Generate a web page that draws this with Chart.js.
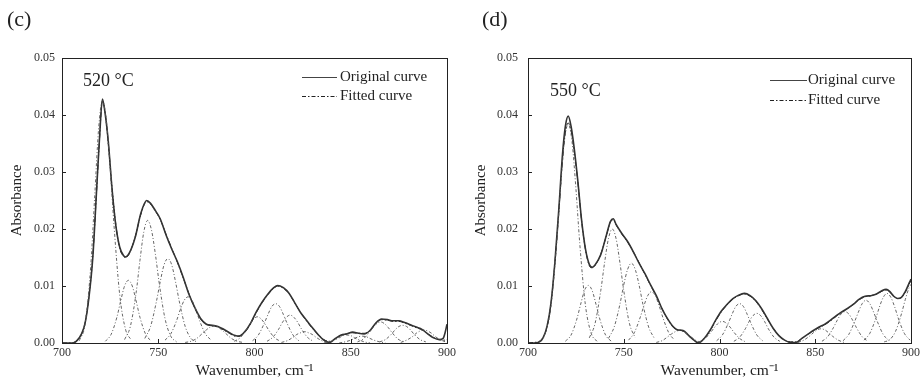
<!DOCTYPE html>
<html>
<head>
<meta charset="utf-8">
<script src="https://cdn.jsdelivr.net/npm/chart.js@4"></script>
<style>
  html, body { margin:0; padding:0; background:#fff; }
  #wrap { position:relative; width:923px; height:382px; overflow:hidden; font-family:"Liberation Serif","Times New Roman",serif; color:#222; }
  canvas { position:absolute; top:0; }
  .lbl { position:absolute; white-space:nowrap; }
  .panel { font-size:22px; line-height:22px; }
  .temp { font-size:18px; line-height:18px; }
  .leg { font-size:15px; line-height:15px; }
  svg { position:absolute; left:0; top:0; }
</style>
</head>
<body>
<div id="wrap">
  <canvas id="chartC" width="461" height="382" style="left:0px"></canvas>
  <canvas id="chartD" width="462" height="382" style="left:461px"></canvas>
  <svg width="923" height="382">
    <line x1="302" y1="77.5" x2="337" y2="77.5" stroke="#444" stroke-width="1.2"/>
    <line x1="302" y1="96.5" x2="337" y2="96.5" stroke="#222" stroke-width="1" stroke-dasharray="4,2,1.5,2"/>
    <line x1="770" y1="80.5" x2="807" y2="80.5" stroke="#444" stroke-width="1.2"/>
    <line x1="770" y1="100.5" x2="807" y2="100.5" stroke="#222" stroke-width="1" stroke-dasharray="4,2,1.5,2"/>
  </svg>
  <div class="lbl panel" style="left:7px;top:8px">(c)</div>
  <div class="lbl panel" style="left:482px;top:8px">(d)</div>
  <div class="lbl temp" style="left:83px;top:71px">520 °C</div>
  <div class="lbl temp" style="left:550px;top:81px">550 °C</div>
  <div class="lbl leg" style="left:340px;top:69px">Original curve</div>
  <div class="lbl leg" style="left:340px;top:88px">Fitted curve</div>
  <div class="lbl leg" style="left:808px;top:72px">Original curve</div>
  <div class="lbl leg" style="left:808px;top:92px">Fitted curve</div>
</div>
<script>
// ---------- axis ticks ----------
const xTicks = [700, 750, 800, 850, 900];
const yTicks = [0.00, 0.01, 0.02, 0.03, 0.04, 0.05];

// ---------- panel (c) 520 °C ----------
const c_wn = [700,703,706,708,710,712,714,716,718,719.5,
  721,722.5,724,726,728,730,732,733,735,738,
  741,744,746,748,751,754,757,760,763,766,
  769,772,775,778,781,784,787,790,792,795,
  798,801,804,807,810,812,815,818,821,824,
  827,830,833,836,839,842,845,848,851,854,
  857,860,863,866,869,872,875,878,881,884,
  887,890,893,896,898,899,900];
const c_orig = [0,0,0,0.0005,0.0015,0.0035,0.0080,0.0150,0.0270,0.0360,
  0.0428,0.0400,0.0355,0.0270,0.0205,0.0168,0.0153,0.0151,0.0158,0.0185,
  0.0228,0.0250,0.0245,0.0235,0.0218,0.0190,0.0165,0.0142,0.0115,0.0085,
  0.0062,0.0043,0.0033,0.0031,0.0029,0.0024,0.0018,0.0013,0.0012,0.0020,
  0.0035,0.0055,0.0072,0.0086,0.0097,0.0101,0.0097,0.0087,0.0070,0.0053,
  0.0040,0.0027,0.0015,0.0005,0.0001,0.0008,0.0014,0.0016,0.0019,0.0017,
  0.0016,0.0022,0.0035,0.0042,0.0041,0.0039,0.0039,0.0036,0.0032,0.0028,
  0.0024,0.0016,0.0009,0.0006,0.0008,0.0018,0.0033];
const c_fit = [0,0,0.0001,0.0005,0.0014,0.0036,0.0082,0.0152,0.0268,0.0358,
  0.0425,0.0402,0.0352,0.0272,0.0207,0.0166,0.0152,0.0150,0.0157,0.0186,
  0.0226,0.0248,0.0244,0.0234,0.0217,0.0191,0.0166,0.0141,0.0114,0.0086,
  0.0061,0.0042,0.0033,0.0030,0.0028,0.0023,0.0017,0.0012,0.0012,0.0019,
  0.0034,0.0054,0.0071,0.0085,0.0096,0.0100,0.0096,0.0086,0.0070,0.0053,
  0.0039,0.0026,0.0015,0.0006,0.0003,0.0007,0.0013,0.0016,0.0018,0.0017,
  0.0017,0.0022,0.0034,0.0041,0.0040,0.0038,0.0038,0.0035,0.0031,0.0027,
  0.0023,0.0016,0.0010,0.0006,0.0005,0.0005,0.0006];
const c_peaks = [
  [[709,0.0004],[712,0.0033],[715,0.0138],[717,0.0258],[719,0.0375],[721,0.0425],[723,0.0392],[725,0.0309],[727,0.0207],[730,0.0084],[733,0.0024],[736,0.0005]],
  [[722.5,0.0003],[725.5,0.0015],[728.5,0.0045],[730.5,0.0074],[732.5,0.0100],[734.5,0.0110],[736.5,0.0100],[738.5,0.0074],[740.5,0.0045],[743.5,0.0015],[746.5,0.0003]],
  [[732.5,0.0006],[735.5,0.0029],[738.5,0.0088],[740.5,0.0145],[742.5,0.0195],[744.5,0.0215],[746.5,0.0198],[748.5,0.0156],[750.5,0.0105],[753.5,0.0043],[756.5,0.0012],[759.5,0.0002]],
  [[743,0.0008],[746,0.0029],[749,0.0072],[751,0.0107],[753,0.0137],[755,0.0148],[757,0.0137],[759,0.0107],[761,0.0072],[764,0.0029],[767,0.0008],[770,0.0002]],
  [[753.5,0.0005],[756.5,0.0016],[759.5,0.0039],[761.5,0.0059],[763.5,0.0075],[765.5,0.0081],[767.5,0.0075],[769.5,0.0059],[771.5,0.0039],[774.5,0.0016],[777.5,0.0005]],
  [[764,0.0001],[767,0.0003],[770,0.0008],[773,0.0017],[775,0.0023],[777,0.0028],[779,0.0030],[781,0.0028],[783,0.0023],[785,0.0017],[788,0.0008],[791,0.0003],[794,0.0001]],
  [[789.5,0.0003],[792.5,0.0009],[795.5,0.0022],[797.5,0.0033],[799.5,0.0042],[801.5,0.0046],[803.5,0.0042],[805.5,0.0033],[807.5,0.0022],[810.5,0.0009],[813.5,0.0003]],
  [[799,0.0004],[802,0.0014],[805,0.0034],[807,0.0050],[809,0.0064],[811,0.0069],[813,0.0064],[815,0.0050],[817,0.0034],[820,0.0014],[823,0.0004]],
  [[806.5,0.0003],[809.5,0.0010],[812.5,0.0024],[814.5,0.0036],[816.5,0.0045],[818.5,0.0049],[820.5,0.0045],[822.5,0.0036],[824.5,0.0024],[827.5,0.0010],[830.5,0.0003]],
  [[814,0.0001],[817,0.0004],[820,0.0010],[822,0.0015],[824,0.0018],[826,0.0020],[828,0.0018],[830,0.0015],[832,0.0010],[835,0.0004],[838,0.0001]],
  [[836,0.0000],[839,0.0002],[842,0.0006],[844,0.0009],[846,0.0013],[848,0.0014],[850,0.0013],[852,0.0009],[854,0.0006],[857,0.0002],[860,0.0000]],
  [[844,0.0000],[847,0.0002],[850,0.0005],[852,0.0008],[854,0.0011],[856,0.0012],[858,0.0011],[860,0.0008],[862,0.0005],[865,0.0002],[868,0.0000]],
  [[853.5,0.0002],[856.5,0.0007],[859.5,0.0018],[861.5,0.0027],[863.5,0.0034],[865.5,0.0037],[867.5,0.0034],[869.5,0.0027],[871.5,0.0018],[874.5,0.0007],[877.5,0.0002]],
  [[865,0.0002],[868,0.0006],[871,0.0015],[873,0.0023],[875,0.0029],[877,0.0031],[879,0.0029],[881,0.0023],[883,0.0015],[886,0.0006],[889,0.0002]],
  [[876,0.0001],[879,0.0005],[882,0.0011],[884,0.0017],[886,0.0021],[888,0.0023],[890,0.0021],[892,0.0017],[894,0.0011],[897,0.0005],[900,0.0001]]
];

// ---------- panel (d) 550 °C ----------
const d_wn = [700,703,706,708,710,712,714,716,718,719.5,
  721,722.5,724,726,728,730,732,733.5,735,738,
  741,743,744.5,746,749,752,755,758,761,764,
  767,770,773,776,778,781,784,787,789,792,
  795,798,801,804,807,810,813,816,819,822,
  825,828,831,834,837,840,843,846,849,852,
  855,858,861,864,867,870,873,876,879,882,
  885,887,889,891,893,895,897,899,900];
const d_orig = [0,0,0.0002,0.0010,0.0030,0.0070,0.0140,0.0230,0.0330,0.0380,
  0.0398,0.0380,0.0345,0.0285,0.0215,0.0165,0.0138,0.0133,0.0137,0.0155,
  0.0190,0.0213,0.0218,0.0208,0.0192,0.0178,0.0160,0.0140,0.0122,0.0102,
  0.0083,0.0060,0.0042,0.0028,0.0023,0.0022,0.0013,0.0004,0.0000,0.0008,
  0.0022,0.0040,0.0056,0.0068,0.0078,0.0084,0.0087,0.0083,0.0074,0.0060,
  0.0043,0.0026,0.0013,0.0005,0.0001,0.0001,0.0008,0.0015,0.0022,0.0028,
  0.0033,0.0040,0.0048,0.0055,0.0061,0.0068,0.0077,0.0082,0.0083,0.0086,
  0.0092,0.0094,0.0090,0.0082,0.0078,0.0080,0.0090,0.0105,0.0112];
const d_fit = [0,0.0001,0.0003,0.0011,0.0028,0.0068,0.0138,0.0226,0.0320,0.0370,
  0.0386,0.0372,0.0340,0.0283,0.0214,0.0164,0.0136,0.0132,0.0136,0.0156,
  0.0189,0.0212,0.0216,0.0207,0.0191,0.0177,0.0160,0.0141,0.0121,0.0101,
  0.0082,0.0060,0.0041,0.0027,0.0023,0.0021,0.0012,0.0004,0.0001,0.0008,
  0.0021,0.0039,0.0055,0.0067,0.0077,0.0083,0.0086,0.0082,0.0073,0.0059,
  0.0042,0.0026,0.0013,0.0005,0.0002,0.0002,0.0008,0.0015,0.0021,0.0027,
  0.0032,0.0039,0.0047,0.0054,0.0061,0.0068,0.0076,0.0081,0.0083,0.0086,
  0.0091,0.0093,0.0089,0.0082,0.0078,0.0080,0.0089,0.0103,0.0110];
const d_peaks = [
  [[706,0.0003],[709,0.0017],[712,0.0066],[715,0.0176],[717,0.0272],[719,0.0353],[721,0.0385],[723,0.0353],[725,0.0272],[727,0.0176],[730,0.0066],[733,0.0017],[736,0.0003]],
  [[719.5,0.0003],[722.5,0.0014],[725.5,0.0042],[727.5,0.0068],[729.5,0.0092],[731.5,0.0101],[733.5,0.0092],[735.5,0.0068],[737.5,0.0042],[740.5,0.0014],[743.5,0.0003]],
  [[732,0.0009],[735,0.0034],[738,0.0092],[740,0.0141],[742,0.0183],[744,0.0200],[746,0.0183],[748,0.0141],[750,0.0092],[753,0.0034],[756,0.0009]],
  [[742,0.0008],[745,0.0028],[748,0.0068],[750,0.0102],[752,0.0129],[754,0.0140],[756,0.0129],[758,0.0102],[760,0.0068],[763,0.0028],[766,0.0008]],
  [[752.5,0.0005],[755.5,0.0018],[758.5,0.0044],[760.5,0.0065],[762.5,0.0083],[764.5,0.0090],[766.5,0.0083],[768.5,0.0065],[770.5,0.0044],[773.5,0.0018],[776.5,0.0005]],
  [[767,0.0001],[770,0.0004],[773,0.0011],[775,0.0016],[777,0.0020],[779,0.0022],[781,0.0020],[783,0.0016],[785,0.0011],[788,0.0004],[791,0.0001]],
  [[789.5,0.0002],[792.5,0.0008],[795.5,0.0019],[797.5,0.0028],[799.5,0.0035],[801.5,0.0038],[803.5,0.0035],[805.5,0.0028],[807.5,0.0019],[810.5,0.0008],[813.5,0.0002]],
  [[798.5,0.0004],[801.5,0.0014],[804.5,0.0034],[806.5,0.0050],[808.5,0.0064],[810.5,0.0069],[812.5,0.0064],[814.5,0.0050],[816.5,0.0034],[819.5,0.0014],[822.5,0.0004]],
  [[807.5,0.0003],[810.5,0.0010],[813.5,0.0025],[815.5,0.0038],[817.5,0.0048],[819.5,0.0052],[821.5,0.0048],[823.5,0.0038],[825.5,0.0025],[828.5,0.0010],[831.5,0.0003]],
  [[841,0.0001],[844,0.0005],[847,0.0012],[849,0.0018],[851,0.0023],[853,0.0025],[855,0.0023],[857,0.0018],[859,0.0012],[862,0.0005],[865,0.0001]],
  [[853.5,0.0003],[856.5,0.0011],[859.5,0.0027],[861.5,0.0040],[863.5,0.0051],[865.5,0.0055],[867.5,0.0051],[869.5,0.0040],[871.5,0.0027],[874.5,0.0011],[877.5,0.0003]],
  [[864.5,0.0004],[867.5,0.0015],[870.5,0.0037],[872.5,0.0054],[874.5,0.0069],[876.5,0.0075],[878.5,0.0069],[880.5,0.0054],[882.5,0.0037],[885.5,0.0015],[888.5,0.0004]],
  [[875.5,0.0005],[878.5,0.0017],[881.5,0.0042],[883.5,0.0063],[885.5,0.0080],[887.5,0.0087],[889.5,0.0080],[891.5,0.0063],[893.5,0.0042],[896.5,0.0017],[899.5,0.0005]],
  [[886,0.0002],[889,0.0006],[892,0.0021],[895,0.0051],[897,0.0076],[899,0.0097],[900,0.0103]]
];

// ---------- chart builder ----------
Chart.defaults.font.family = '"Liberation Serif", "Times New Roman", serif';
Chart.defaults.color = '#333';

const framePlugin = {
  id: 'frame',
  afterDatasetsDraw(chart) {
    const {ctx, chartArea: a, scales: {x, y}} = chart;
    ctx.save();
    ctx.strokeStyle = '#222';
    ctx.lineWidth = 1;
    ctx.strokeRect(Math.round(a.left) + 0.5, Math.round(a.top) + 0.5,
                   Math.round(a.right - a.left), Math.round(a.bottom - a.top));
    ctx.beginPath();
    x.ticks.forEach(t => {
      const px = Math.round(x.getPixelForValue(t.value)) + 0.5;
      ctx.moveTo(px, a.bottom); ctx.lineTo(px, a.bottom - 4);
    });
    y.ticks.forEach(t => {
      const py = Math.round(y.getPixelForValue(t.value)) + 0.5;
      ctx.moveTo(a.left, py); ctx.lineTo(a.left + 4, py);
    });
    ctx.stroke();
    ctx.restore();
  }
};

function buildChart(id, wn, orig, fit, peaks, yAxisWidth, rightPad, yLabelPad, yTitlePad) {
  const toXY = (xs, ys) => xs.map((v, i) => ({x: v, y: ys[i]}));
  const datasets = [];
  peaks.forEach((p, i) => datasets.push({
    label: 'Peak ' + (i + 1),
    data: p.map(pt => ({x: pt[0], y: pt[1]})),
    borderColor: '#555', borderWidth: 0.9, borderDash: [3, 2, 1, 2],
    pointRadius: 0, fill: false, cubicInterpolationMode: 'monotone'
  }));
  datasets.push({
    label: 'Original curve', data: toXY(wn, orig),
    borderColor: '#333', borderWidth: 1.6, pointRadius: 0, fill: false,
    cubicInterpolationMode: 'monotone'
  });
  datasets.push({
    label: 'Fitted curve', data: toXY(wn, fit),
    borderColor: '#111', borderWidth: 1, borderDash: [5, 2, 1.5, 2], pointRadius: 0, fill: false,
    cubicInterpolationMode: 'monotone'
  });
  return new Chart(document.getElementById(id), {
    type: 'line',
    data: {datasets},
    plugins: [framePlugin],
    options: {
      responsive: false, animation: false, devicePixelRatio: 1,
      layout: {padding: {top: 58, right: rightPad, left: 0, bottom: 0}},
      plugins: {legend: {display: false}, tooltip: {enabled: false}},
      scales: {
        x: {
          type: 'linear', min: 700, max: 900,
          afterBuildTicks: s => { s.ticks = xTicks.map(v => ({value: v})); },
          afterFit: s => { s.height = 39; },
          grid: {display: false, drawTicks: false},
          border: {display: false},
          ticks: {padding: 3, font: {size: 12}, color: '#333', maxRotation: 0,
                  callback: v => String(v)},
          title: {display: true, text: 'Wavenumber, cm⁻¹', font: {size: 15.5}, color: '#222',
                  padding: {top: 0, bottom: 2}}
        },
        y: {
          type: 'linear', min: 0, max: 0.05,
          afterBuildTicks: s => { s.ticks = yTicks.map(v => ({value: v})); },
          afterFit: s => { s.width = yAxisWidth; },
          grid: {display: false, drawTicks: false},
          border: {display: false},
          ticks: {padding: yLabelPad, font: {size: 12}, color: '#333',
                  callback: v => Number(v).toFixed(2)},
          title: {display: true, text: 'Absorbance', font: {size: 15}, color: '#222',
                  padding: {top: yTitlePad, bottom: 0}}
        }
      }
    }
  });
}

buildChart('chartC', c_wn, c_orig, c_fit, c_peaks, 62, 14, 7, 8);
buildChart('chartD', d_wn, d_orig, d_fit, d_peaks, 67, 9, 10, 11);
</script>
</body>
</html>
